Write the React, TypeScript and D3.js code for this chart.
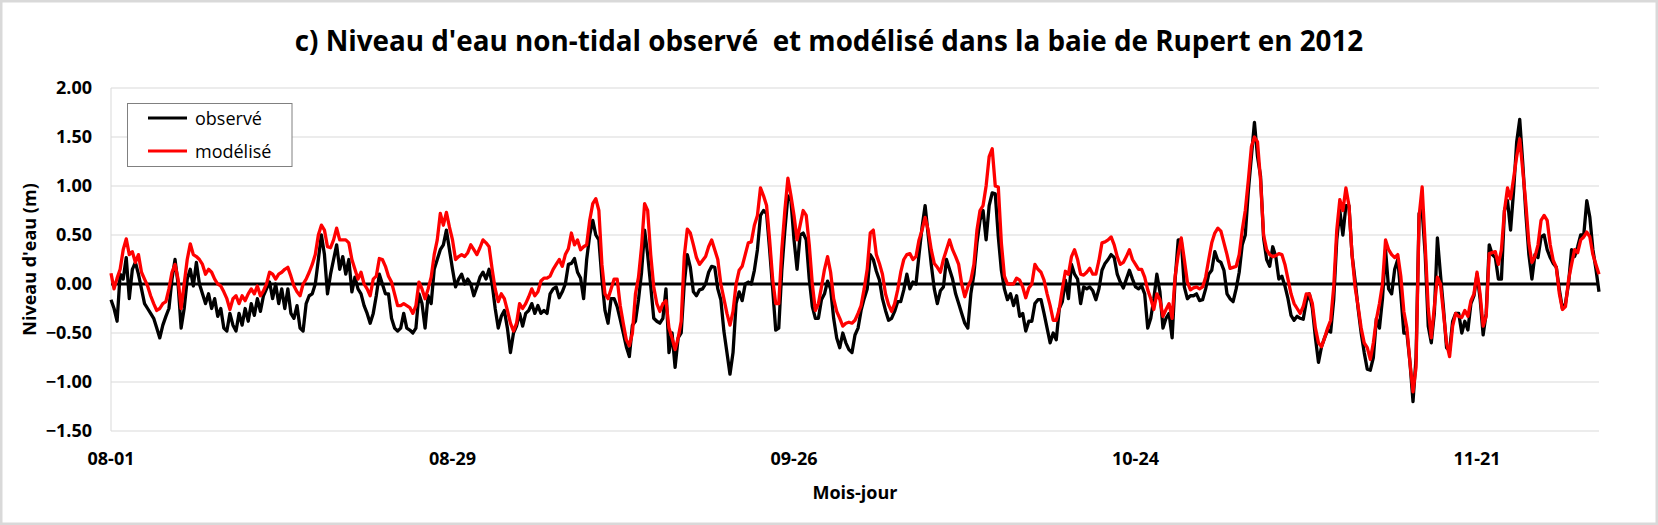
import React from 'react';
import * as d3 from 'd3';

// Observed non-tidal water level (m), every 6 hours from 2012-08-01 00:00 (4 values per day)
const observed: number[] = [
  -0.16, -0.25, -0.38, 0.1,
  0.05, 0.27, -0.15, 0.15,
  0.22, 0.1, -0.05, -0.2,
  -0.25, -0.3, -0.35, -0.45,
  -0.55, -0.42, -0.33, -0.25,
  0.05, 0.25, 0.0, -0.45,
  -0.25, 0.05, 0.15, -0.02,
  0.22, 0.0, -0.1, -0.2,
  -0.1, -0.25, -0.15, -0.33,
  -0.25, -0.45, -0.48, -0.3,
  -0.42, -0.48, -0.3, -0.42,
  -0.25, -0.38, -0.2, -0.32,
  -0.15, -0.28, -0.12, -0.05,
  0.02, -0.15, 0.0, -0.2,
  -0.05, -0.25, -0.05, -0.3,
  -0.35, -0.22, -0.45, -0.48,
  -0.2, -0.12, -0.1, 0.0,
  0.25, 0.5, 0.3, -0.1,
  0.1, 0.25, 0.4, 0.15,
  0.28, 0.1, 0.25, -0.08,
  0.07, -0.05, -0.1, -0.22,
  -0.3, -0.4, -0.3, -0.12,
  0.1, 0.0, -0.1, -0.1,
  -0.35, -0.45, -0.48, -0.45,
  -0.3, -0.45, -0.47, -0.5,
  -0.45, -0.1, -0.2, -0.45,
  -0.12, -0.2, 0.15, 0.25,
  0.35, 0.4, 0.55, 0.35,
  0.15, -0.03, 0.05, 0.1,
  0.0, 0.05, 0.0, -0.12,
  -0.03, 0.07, 0.12, 0.05,
  0.15, 0.0, -0.25, -0.45,
  -0.33, -0.27, -0.45, -0.7,
  -0.5, -0.43, -0.3, -0.43,
  -0.3, -0.27, -0.2, -0.3,
  -0.22, -0.3, -0.27, -0.3,
  -0.1, -0.05, -0.03, -0.14,
  -0.08, 0.0, 0.2, 0.21,
  0.26, 0.12, 0.06, -0.15,
  0.25, 0.5, 0.65, 0.5,
  0.45, 0.05, -0.27, -0.4,
  -0.15, -0.15, -0.23, -0.36,
  -0.5, -0.64, -0.74, -0.42,
  -0.38, -0.16, 0.12, 0.55,
  0.3, -0.02, -0.35, -0.38,
  -0.4, -0.35, -0.05, -0.7,
  -0.5, -0.85, -0.55, -0.5,
  0.0, 0.3, 0.17, -0.08,
  -0.12, -0.06, -0.05, 0.0,
  0.12, 0.18, 0.17, -0.05,
  -0.16, -0.48, -0.7, -0.92,
  -0.7, -0.2, -0.08, -0.17,
  0.0, 0.02, 0.0, 0.14,
  0.35, 0.7, 0.75, 0.72,
  0.35, -0.05, -0.47, -0.45,
  0.14, 0.55, 0.9, 0.85,
  0.45, 0.15, 0.5, 0.52,
  0.45, 0.05, -0.23, -0.35,
  -0.35, -0.16, -0.1, 0.03,
  -0.05, -0.35, -0.55, -0.65,
  -0.5, -0.6, -0.67, -0.7,
  -0.52, -0.45, -0.27, -0.15,
  -0.05, 0.3, 0.25, 0.13,
  0.04, -0.15, -0.27, -0.37,
  -0.35, -0.28, -0.18, -0.18,
  -0.06, 0.1, -0.05, 0.02,
  0.0, 0.3, 0.58, 0.8,
  0.5, 0.2, -0.05, -0.2,
  -0.07, -0.03, 0.25, 0.15,
  0.05, -0.1, -0.2, -0.3,
  -0.4, -0.45, -0.1, 0.1,
  0.42, 0.65, 0.75, 0.45,
  0.8, 0.93, 0.92, 0.48,
  0.14, -0.05, -0.16, -0.1,
  -0.22, -0.12, -0.33, -0.3,
  -0.48, -0.38, -0.38, -0.2,
  -0.16, -0.16, -0.3, -0.45,
  -0.6, -0.5, -0.57, -0.25,
  -0.18, 0.04, -0.15, 0.2,
  0.1, 0.05, -0.2, -0.03,
  -0.05, -0.03, -0.07, -0.16,
  -0.05, 0.14, 0.21, 0.25,
  0.3, 0.27, 0.1, 0.02,
  -0.04, 0.05, 0.14, 0.05,
  -0.03, -0.05, -0.02, -0.1,
  -0.45, -0.35, -0.15, 0.1,
  -0.08, -0.45, -0.35, -0.3,
  -0.55, 0.05, 0.45, 0.45,
  -0.03, -0.15, -0.12, -0.12,
  -0.1, -0.17, -0.16, -0.05,
  0.1, 0.14, 0.33, 0.24,
  0.22, 0.14, -0.1, -0.15,
  -0.18, -0.05, 0.12, 0.4,
  0.5, 0.95, 1.3, 1.65,
  1.3, 1.1, 0.47, 0.25,
  0.18, 0.38, 0.28, 0.05,
  0.08, -0.02, -0.15, -0.32,
  -0.37, -0.33, -0.35, -0.36,
  -0.18, -0.1, -0.25, -0.55,
  -0.8, -0.64, -0.55, -0.47,
  -0.49, -0.16, 0.45, 0.75,
  0.5, 0.8, 0.8, 0.3,
  0.04, -0.25, -0.5, -0.7,
  -0.87, -0.88, -0.75, -0.35,
  -0.45, -0.15, 0.35, -0.05,
  -0.1, 0.15, 0.25, -0.1,
  -0.5, -0.5, -0.8, -1.2,
  -0.75, 0.72, 0.75, 0.3,
  -0.43, -0.6, -0.3, 0.47,
  0.1, -0.25, -0.65, -0.68,
  -0.38, -0.3, -0.3, -0.5,
  -0.38, -0.47, -0.2, -0.12,
  0.1, -0.15, -0.52, -0.3,
  0.4, 0.3, 0.27, 0.05,
  0.05, 0.75, 0.85, 0.55,
  0.95, 1.45, 1.68, 1.23,
  0.72, 0.3, 0.05, 0.3,
  0.27, 0.48, 0.5, 0.35,
  0.27, 0.21, 0.17, -0.06,
  -0.25, -0.2, 0.0, 0.35,
  0.28, 0.38, 0.5, 0.5,
  0.85, 0.68, 0.35, 0.15,
  -0.08,
];

// Modelled non-tidal water level (m), same time steps
const modeled: number[] = [
  0.11, -0.05, 0.06, 0.15,
  0.35, 0.46, 0.3, 0.33,
  0.22, 0.3, 0.12, 0.05,
  -0.02, -0.12, -0.2, -0.27,
  -0.25, -0.2, -0.18, -0.05,
  0.12, 0.2, 0.05, -0.25,
  0.0, 0.25, 0.41, 0.3,
  0.28, 0.25, 0.2, 0.1,
  0.15, 0.12, 0.05, 0.0,
  -0.02, -0.08, -0.15, -0.26,
  -0.15, -0.12, -0.2, -0.12,
  -0.17, -0.1, -0.05, -0.1,
  -0.02, -0.12, -0.07, 0.0,
  0.12, 0.1, 0.05, 0.1,
  0.12, 0.15, 0.17, 0.08,
  -0.02, -0.08, -0.12, 0.0,
  0.05, 0.12, 0.2, 0.3,
  0.5, 0.6, 0.55, 0.38,
  0.37, 0.45, 0.57, 0.45,
  0.45, 0.45, 0.42, 0.25,
  0.15, 0.05, 0.12, 0.0,
  -0.05, -0.12, 0.05, 0.08,
  0.26, 0.25, 0.18, 0.08,
  0.02, -0.1, -0.22, -0.22,
  -0.2, -0.22, -0.24, -0.3,
  -0.22, 0.02, -0.05, -0.15,
  -0.05, 0.07, 0.3, 0.45,
  0.72, 0.6, 0.73, 0.58,
  0.45, 0.25, 0.28, 0.3,
  0.28, 0.32, 0.4, 0.35,
  0.3, 0.37, 0.45, 0.42,
  0.38, 0.15, -0.05, -0.18,
  -0.1, -0.15, -0.27, -0.4,
  -0.48, -0.4, -0.2, -0.25,
  -0.2, -0.13, -0.05, -0.12,
  -0.08, 0.03, 0.06, 0.06,
  0.08, 0.15, 0.2, 0.25,
  0.18, 0.3, 0.36, 0.52,
  0.4, 0.45, 0.35, 0.38,
  0.4, 0.65, 0.82, 0.87,
  0.75, 0.2, -0.1, -0.15,
  -0.05, 0.05, 0.05, -0.22,
  -0.4, -0.57, -0.63, -0.5,
  -0.1, 0.07, 0.38, 0.82,
  0.75, 0.3, -0.03, -0.2,
  -0.28, -0.2, -0.17, -0.45,
  -0.55, -0.67, -0.55, -0.38,
  0.28, 0.56, 0.52, 0.4,
  0.27, 0.2, 0.24, 0.28,
  0.38, 0.45, 0.35, 0.25,
  0.0, -0.15, -0.3, -0.42,
  -0.28, 0.0, 0.14, 0.18,
  0.3, 0.42, 0.43, 0.6,
  0.7, 0.98, 0.9, 0.8,
  0.45, 0.05, -0.2, -0.2,
  0.35, 0.75, 1.08, 0.9,
  0.7, 0.45, 0.6, 0.75,
  0.7, 0.4, 0.0, -0.27,
  -0.2, -0.03, 0.15, 0.28,
  0.12, -0.15, -0.28, -0.35,
  -0.43, -0.4, -0.39, -0.4,
  -0.37, -0.3, -0.22, -0.05,
  0.15, 0.52, 0.55, 0.3,
  0.21, 0.1, -0.1, -0.21,
  -0.28, -0.2, -0.06, 0.12,
  0.25, 0.3, 0.31, 0.25,
  0.28, 0.45, 0.55, 0.68,
  0.55, 0.35, 0.21, 0.17,
  0.12, 0.25, 0.35, 0.45,
  0.35, 0.28, 0.2, 0.0,
  -0.13, -0.03, 0.04, 0.2,
  0.55, 0.75, 0.8, 1.0,
  1.3, 1.38, 1.0, 0.99,
  0.42, 0.08, 0.0, 0.0,
  0.0, 0.06, 0.04, -0.03,
  -0.14, -0.04, 0.0, 0.2,
  0.15, 0.12, 0.04, -0.1,
  -0.22, -0.37, -0.37, -0.25,
  -0.05, 0.13, 0.1, 0.28,
  0.35, 0.25, 0.1, 0.09,
  0.12, 0.16, 0.1, 0.1,
  0.24, 0.42, 0.43, 0.45,
  0.48, 0.4, 0.28, 0.2,
  0.22, 0.28, 0.35, 0.25,
  0.2, 0.15, 0.15, 0.07,
  -0.06, -0.15, -0.26, -0.1,
  -0.16, -0.33, -0.26, -0.2,
  -0.35, 0.08, 0.3, 0.47,
  0.25, 0.02, -0.06, -0.04,
  -0.03, -0.05, -0.03, 0.07,
  0.25, 0.42, 0.52, 0.57,
  0.54, 0.42, 0.3, 0.16,
  0.17, 0.18, 0.3, 0.55,
  0.75, 1.06, 1.4, 1.5,
  1.45, 1.06, 0.5, 0.35,
  0.3, 0.28, 0.29, 0.31,
  0.3, 0.2, 0.05, -0.1,
  -0.2, -0.25, -0.3, -0.23,
  -0.1, -0.1, -0.2, -0.45,
  -0.6, -0.64, -0.55, -0.45,
  -0.37, -0.03, 0.55, 0.86,
  0.75, 0.98, 0.8, 0.3,
  -0.03, -0.23, -0.45, -0.6,
  -0.65, -0.77, -0.6, -0.36,
  -0.2, 0.0, 0.45, 0.35,
  0.3, 0.27, 0.3, 0.08,
  -0.28, -0.45, -0.8, -1.1,
  -0.85, 0.69, 0.99, 0.4,
  -0.25, -0.55, -0.23, 0.07,
  0.0, -0.3, -0.6, -0.74,
  -0.43, -0.3, -0.33, -0.34,
  -0.27, -0.33, -0.17, -0.1,
  0.12, -0.1, -0.43, -0.33,
  0.31, 0.32, 0.33, 0.2,
  0.35, 0.75, 0.98, 0.87,
  1.08, 1.3, 1.48, 1.16,
  0.82, 0.42, 0.22, 0.28,
  0.4, 0.65, 0.7, 0.65,
  0.4, 0.24, 0.17, -0.1,
  -0.26, -0.23, 0.04, 0.2,
  0.35, 0.32, 0.45, 0.48,
  0.53, 0.48, 0.3, 0.2,
  0.1,
];

const stepDays = 0.25;
const totalDays = 122; // 2012-08-01 to 2012-12-01
const xTickDays = [0, 28, 56, 84, 112];
const xTickLabels = ['08-01', '08-29', '09-26', '10-24', '11-21'];
const yTicks = [2, 1.5, 1, 0.5, 0, -0.5, -1, -1.5];
const seriesNames = ['observé', 'modélisé'];
const seriesColors = ['#000000', '#ff0000'];

const title = "c) Niveau d'eau non-tidal observé  et modélisé dans la baie de Rupert en 2012";
const yTitle = "Niveau d'eau (m)";
const xTitle = 'Mois-jour';

const FONT = "'Open Sans', 'Liberation Sans', sans-serif";

export default function App() {
  const W = 1658;
  const H = 525;
  const left = 111, right = 1599, top = 88, bottom = 431;
  const x = d3.scaleLinear().domain([0, totalDays]).range([left, right]);
  const y = d3.scaleLinear().domain([-1.5, 2]).range([bottom, top]);
  const line = d3
    .line<number>()
    .x((_, i) => x(i * stepDays))
    .y((d) => y(d));

  return (
    <svg
      width={W}
      height={H}
      style={{ position: 'absolute', left: 0, top: 0, background: '#fff' }}
      fontFamily={FONT}
    >
      <rect x={0} y={0} width={W} height={H} fill="#ffffff" />
      <rect x={1.25} y={1.25} width={W - 2.5} height={H - 2.5} fill="none" stroke="#d9d9d9" strokeWidth={2.5} />

      <text x={829} y={51} textAnchor="middle" fontSize={27.8} fontWeight="bold" fill="#000" style={{ whiteSpace: 'pre' }}>
        {title}
      </text>

      {/* gridlines */}
      {yTicks.map((t) => (
        <line key={'g' + t} x1={left} x2={right} y1={y(t)} y2={y(t)} stroke="#d9d9d9" strokeWidth={1} />
      ))}
      <line x1={left} x2={left} y1={top} y2={bottom} stroke="#d9d9d9" strokeWidth={1} />

      {/* y tick labels */}
      {yTicks.map((t) => (
        <text key={'yl' + t} x={92} y={y(t) + 6.3} textAnchor="end" fontSize={18} fontWeight="bold" fill="#000">
          {d3.format('.2f')(t)}
        </text>
      ))}

      {/* x tick labels */}
      {xTickDays.map((d, i) => (
        <text key={'xl' + d} x={x(d)} y={465} textAnchor="middle" fontSize={18} fontWeight="bold" fill="#000">
          {xTickLabels[i]}
        </text>
      ))}

      {/* zero line */}
      <line x1={left} x2={right} y1={y(0)} y2={y(0)} stroke="#000" strokeWidth={3} />

      {/* series */}
      <path d={line(observed) || ''} fill="none" stroke={seriesColors[0]} strokeWidth={3.3} strokeLinejoin="round" />
      <path d={line(modeled) || ''} fill="none" stroke={seriesColors[1]} strokeWidth={3.3} strokeLinejoin="round" />

      {/* axis titles */}
      <text transform={`translate(36, ${(top + bottom) / 2}) rotate(-90)`} textAnchor="middle" fontSize={18} fontWeight="bold" fill="#000">
        {yTitle}
      </text>
      <text x={(left + right) / 2} y={499} textAnchor="middle" fontSize={18} fontWeight="bold" fill="#000">
        {xTitle}
      </text>

      {/* legend */}
      <rect x={127.5} y={103.5} width={164.5} height={63} fill="#fff" stroke="#808080" strokeWidth={1} />
      {seriesNames.map((n, i) => (
        <g key={n}>
          <line x1={148} x2={187} y1={118 + i * 33} y2={118 + i * 33} stroke={seriesColors[i]} strokeWidth={3} />
          <text x={195} y={124.5 + i * 33} fontSize={18} fill="#000">
            {n}
          </text>
        </g>
      ))}
    </svg>
  );
}
